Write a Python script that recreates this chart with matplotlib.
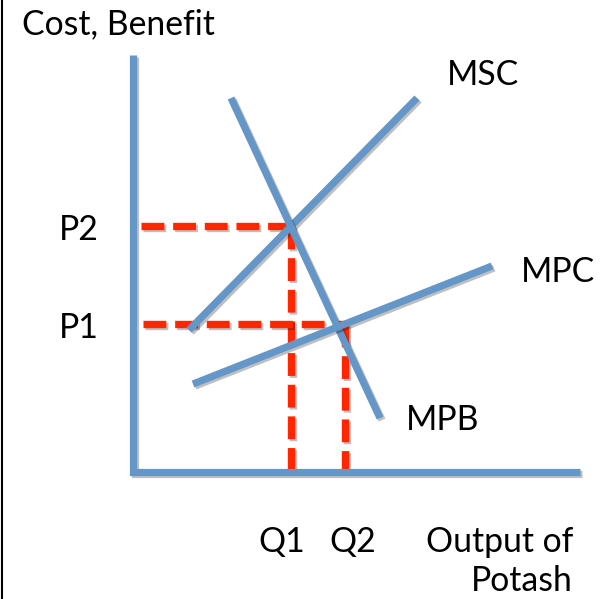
import matplotlib.pyplot as plt
import matplotlib.patheffects as pe

# curve end points (pixel units of the original slide)
curve_names = ['MSC', 'MPB', 'MPC']
curve_x = [[189, 417], [231, 380], [193, 492]]
curve_y = [[330, 98], [98, 418], [384, 266]]

# axes
axis_x = [133, 133, 580]
axis_y = [55, 472, 472]

# equilibrium guides: price level, price start x, quantity x
price_labels = ['P2', 'P1']
price_y = [226, 324]
price_x0 = [141, 143]
qty_labels = ['Q1', 'Q2']
qty_x = [291, 345]

blue = '#6496c8'
red = '#ff2600'

fig = plt.figure(figsize=(6.09, 5.99), dpi=100)
ax = fig.add_axes([0, 0, 1, 1])
ax.set_xlim(0, 609)
ax.set_ylim(599, 0)
ax.axis('off')

shadow = [pe.SimpleLineShadow(offset=(1.5, -1.5), shadow_color='k', alpha=0.25), pe.Normal()]

# dashed guides
for py, px0, qx in zip(price_y, price_x0, qty_x):
    ax.plot([px0, qx], [py, py], color=red, lw=5.3, dashes=(3.1, 1.2),
            solid_capstyle='butt', path_effects=shadow, zorder=2)
    ax.plot([qx, qx], [py, axis_y[1]], color=red, lw=5.3, dashes=(3.1, 1.2),
            solid_capstyle='butt', path_effects=shadow, zorder=2)

# curves
for cx, cy in zip(curve_x, curve_y):
    ax.plot(cx, cy, color=blue, lw=5.2, solid_capstyle='butt',
            path_effects=shadow, zorder=3)

ax.plot(axis_x, axis_y, color=blue, lw=5.2, solid_capstyle='butt',
        solid_joinstyle='miter', path_effects=shadow, zorder=3)

# left border line
ax.plot([1.5, 1.5], [0, 599], color='k', lw=1.5)

font = dict(family=['Lato', 'DejaVu Sans'], fontsize=24.3, color='k')
ax.text(22, 24, 'Cost, Benefit', ha='left', va='center', **font)
ax.text(483, 75, 'MSC', ha='center', va='center', **font)
ax.text(558, 272, 'MPC', ha='center', va='center', **font)
ax.text(443, 420, 'MPB', ha='center', va='center', **font)
for lab, py in zip(price_labels, price_y):
    ax.text(79, py + 4, lab, ha='center', va='center', **font)
for lab, qx, dx in zip(qty_labels, qty_x, [-9, 8]):
    ax.text(qx + dx, 542, lab, ha='center', va='center', **font)
ax.text(573, 542, 'Output of', ha='right', va='center', **font)
ax.text(573, 581, 'Potash', ha='right', va='center', **font)

fig.savefig('out.png', dpi=100)
